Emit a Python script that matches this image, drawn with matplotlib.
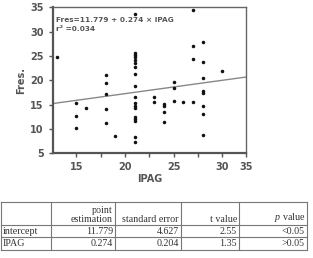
import matplotlib.pyplot as plt
from matplotlib.lines import Line2D

plt.rcParams["mathtext.fontset"] = "custom"
plt.rcParams["mathtext.it"] = "Liberation Serif:italic"
plt.rcParams["mathtext.rm"] = "Liberation Serif"

# scatter data
ipag = [13, 15, 15, 15, 16, 18, 18, 18, 18, 18, 19,
        21, 21, 21, 21, 21, 21, 21, 21, 21, 21, 21, 21, 21, 21, 21, 21, 21, 21,
        23, 23, 24, 24, 24, 24, 25, 25, 25, 26,
        27, 27, 27, 27, 28, 28, 28, 28, 28, 28, 28, 28, 30]
fres = [24.8, 15.4, 12.7, 10.1, 14.4, 21.0, 19.4, 17.1, 14.1, 11.2, 8.5,
        33.6, 25.7, 25.2, 24.7, 24.2, 23.6, 22.8, 21.3, 18.8, 16.6, 15.3, 14.7, 14.3, 12.5, 12.1, 11.7, 8.3, 7.4,
        16.6, 15.5, 15.1, 14.8, 13.5, 11.5, 19.6, 18.4, 15.8, 15.5,
        34.4, 27.1, 24.4, 15.5, 27.8, 23.7, 20.5, 17.7, 17.3, 14.8, 13.0, 8.8, 21.9]

intercept = 11.779
slope = 0.274

# table
col_headers = ["", "point\nestimation", "standard error", "t value", "$p$ value"]
row_names = ["intercept", "IPAG"]
estimates = ["11.779", "0.274"]
std_errors = ["4.627", "0.204"]
t_values = ["2.55", "1.35"]
p_values = ["<0.05", ">0.05"]

W, H = 313, 258
fig = plt.figure(figsize=(W / 100, H / 100), dpi=100)
ax = fig.add_axes([52.7 / W, 1 - 153.3 / H, (246 - 52.7) / W, (153.3 - 7.3) / H])

grey = "#555555"
ax.scatter(ipag, fres, s=6.5, color="#111111", zorder=3, linewidths=0)

x0, x1 = 12.55, 32.45
ax.plot([x0, x1], [intercept + slope * x0, intercept + slope * x1], color="#888888", lw=1)
ax.set_xlim(x0, x1)
ax.set_ylim(5, 35)

ax.set_xticks([15, 20, 25, 30, x1])
ax.set_xticklabels(["15", "20", "25", "30", "35"])
ax.set_xticks([17.5, 22.5, 27.5], minor=True)
ax.set_yticks([5, 10, 15, 20, 25, 30, 35])
ax.tick_params(axis="both", colors=grey, labelsize=7, length=3, width=1)
ax.tick_params(axis="x", which="minor", colors=grey, length=3, width=1)
for lab in ax.get_xticklabels() + ax.get_yticklabels():
    lab.set_fontweight("bold")

for side in ["left", "bottom"]:
    ax.spines[side].set_color(grey)
    ax.spines[side].set_linewidth(1.6)
for side in ["top", "right"]:
    ax.spines[side].set_color("#666666")
    ax.spines[side].set_linewidth(1)

ax.set_xlabel("IPAG", fontsize=7, color=grey, fontweight="bold", labelpad=1)
ax.set_ylabel("Fres.", fontsize=7, color=grey, fontweight="bold", labelpad=3)

ax.text(0.015, 0.91, "Fres=11.779 + 0.274 × IPAG", transform=ax.transAxes,
        fontsize=5.3, color=grey, fontweight="bold", va="center")
ax.text(0.015, 0.85, "r² =0.034", transform=ax.transAxes,
        fontsize=5.3, color=grey, fontweight="bold", va="center")


# table drawn with lines and text in pixel units
def fx(px):
    return px / W


def fy(py):
    return 1 - py / H


line_col = "#777777"
col_x = [0.5, 51, 115, 181, 239, 307]
row_y = [202, 225, 237, 250]
for y in row_y:
    fig.add_artist(Line2D([fx(col_x[0]), fx(col_x[-1])], [fy(y), fy(y)], color=line_col, lw=0.8))
for x in col_x:
    fig.add_artist(Line2D([fx(x), fx(x)], [fy(row_y[0]), fy(row_y[-1])], color=line_col, lw=0.8))

tfont = dict(family="Liberation Serif", fontsize=7.2, color="#333333")
for j, h in enumerate(col_headers[1:], start=1):
    fig.text(fx(col_x[j + 1] - 2), fy(row_y[1] - 1.2), h, ha="right", va="bottom",
             multialignment="right", linespacing=1.0, **tfont)

rows = list(zip(row_names, estimates, std_errors, t_values, p_values))
for i, row in enumerate(rows):
    yc = fy((row_y[i + 1] + row_y[i + 2]) / 2)
    fig.text(fx(3), yc, row[0], ha="left", va="center", **tfont)
    for j in range(1, 5):
        fig.text(fx(col_x[j + 1] - 2), yc, row[j], ha="right", va="center", **tfont)

fig.savefig("out.png", dpi=100)
